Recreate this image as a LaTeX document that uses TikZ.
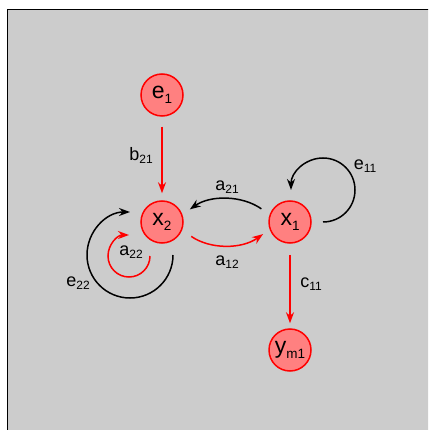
\documentclass[tikz,border=0pt]{standalone}
\usepackage{fontspec}
\setmainfont{Liberation Sans}
\usetikzlibrary{arrows.meta}
\definecolor{bggray}{HTML}{CCCCCC}
\definecolor{nodefill}{HTML}{FF8080}
\definecolor{pred}{HTML}{FF0000}
\newcommand{\nsb}[1]{\raisebox{-5pt}{\fontsize{13.5}{14}\selectfont #1}}
\newcommand{\lsb}[1]{\raisebox{-3pt}{\fontsize{12}{12}\selectfont #1}}
\tikzset{
  state/.style={circle, draw=pred, fill=nodefill, line width=1.5pt, minimum size=42pt, inner sep=0pt, font=\fontsize{23}{24}\selectfont},
  lbl/.style={inner sep=0pt, font=\fontsize{18}{19}\selectfont},
  redarrow/.style={draw=pred, line width=1.5pt, -{Stealth[length=11pt,width=8pt]}},
  blackarrow/.style={draw=black, line width=1.5pt, -{Stealth[length=11pt,width=8pt]}}
}
\begin{document}
\begin{tikzpicture}[x=1pt,y=1pt]
\useasboundingbox (0,0) rectangle (428,-430);
\clip (0,0) rectangle (428,-430);
\fill[bggray] (7,-9.5) rectangle (440,-440);
\draw[black, line width=1pt] (7,-440) -- (7,-9.5) -- (440,-9.5);

\node[state] (e1) at (162,-95) {e\nsb{1}};
\node[state] (x2) at (162,-222) {x\nsb{2}};
\node[state] (x1) at (290,-222) {x\nsb{1}};
\node[state] (ym1) at (290,-350) {y\nsb{m1}};

\draw[redarrow, shorten <=10pt, shorten >=7pt] (e1) -- (x2);
\draw[redarrow, shorten <=11pt, shorten >=5pt] (x1) -- (ym1);
\draw[blackarrow, shorten <=10pt, shorten >=9pt] (x1.160) to[bend right=35] (x2.20);
\draw[redarrow, shorten <=11pt, shorten >=8pt] (x2.-22) to[bend right=35] (x1.200);

\coordinate (e11s) at (323,-222);
\coordinate (e22s) at (173,-255);
\coordinate (a22s) at (150,-256);
\draw[blackarrow] (e11s) arc[start angle=-90, end angle=180, radius=32pt];
\draw[blackarrow] (e22s) arc[start angle=0, end angle=-270, radius=43pt];
\draw[redarrow] (a22s) arc[start angle=0, end angle=-270, radius=21pt];

\node[lbl] (lb21) at (141,-155) {b\lsb{21}};
\node[lbl] (lc11) at (311,-284) {c\lsb{11}};
\node[lbl] (la21) at (227,-187) {a\lsb{21}};
\node[lbl] (la12) at (227,-262) {a\lsb{12}};
\node[lbl] (le11) at (365,-166) {e\lsb{11}};
\node[lbl] (le22) at (78,-283) {e\lsb{22}};
\node[lbl] (la22) at (131,-252) {a\lsb{22}};
\end{tikzpicture}
\end{document}
